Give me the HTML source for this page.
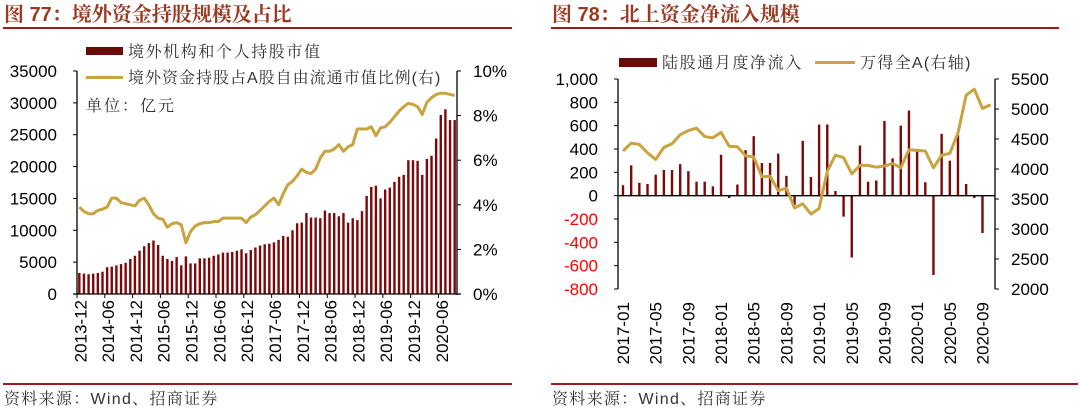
<!DOCTYPE html>
<html><head><meta charset="utf-8">
<style>
body{margin:0;background:#fff;}
svg{display:block;font-family:"Liberation Sans","Noto Sans CJK SC",sans-serif;}
.cj{font-family:"Liberation Sans","Noto Serif CJK SC",serif;}
</style></head>
<body>
<svg id="s" width="1080" height="410" xmlns="http://www.w3.org/2000/svg">
<g>
<text x="4" y="21" font-size="20" font-weight="bold" fill="#9b3a22" class="cj">图 77：境外资金持股规模及占比</text>
<rect x="3" y="27" width="509" height="2" fill="#9b1c1c"/>
</g>
<g>
<text x="552" y="21" font-size="20" font-weight="bold" fill="#9b3a22" class="cj">图 78：北上资金净流入规模</text>
<rect x="551" y="27" width="508" height="2" fill="#9b1c1c"/>
</g>
<g>
<rect x="86" y="47" width="37" height="8" fill="#6b0a0a"/>
<text x="128" y="57" font-size="16" letter-spacing="1.6" fill="#333" class="cj">境外机构和个人持股市值</text>
<rect x="86" y="76" width="37" height="3" fill="#c9a33f"/>
<text x="128" y="83" font-size="16" letter-spacing="1" fill="#333" class="cj">境外资金持股占A股自由流通市值比例(右)</text>
<text x="86" y="111" font-size="16" letter-spacing="2" fill="#333" class="cj">单位：亿元</text>
</g>
<g>
<rect x="619" y="58" width="38" height="9" fill="#6b0a0a"/>
<text x="662" y="68" font-size="16" letter-spacing="1.6" fill="#333" class="cj">陆股通月度净流入</text>
<rect x="815" y="61" width="40" height="3" fill="#c9a33f"/>
<text x="860" y="68" font-size="16" letter-spacing="1.3" fill="#333" class="cj">万得全A(右轴)</text>
</g>
<rect x="3" y="383" width="509" height="2" fill="#9b1c1c"/>
<text x="4" y="404" font-size="16" letter-spacing="1.3" fill="#333" class="cj">资料来源：Wind、招商证券</text>
<rect x="551" y="383" width="527" height="2" fill="#9b1c1c"/>
<text x="552" y="404" font-size="16" letter-spacing="1.3" fill="#333" class="cj">资料来源：Wind、招商证券</text>
<g id="L"></g><g id="R"></g>
</svg>
<script>
const leftBars=[3300,3200,3100,3200,3300,3500,4200,4300,4500,4700,4900,5500,6000,6800,7500,8000,8400,7700,6000,5500,5200,5800,4500,5900,4800,4800,5600,5600,5700,6000,6200,6500,6500,6600,6800,7000,6400,6900,7300,7600,7800,7900,8100,8500,9100,9000,10000,11100,11200,12700,12000,12000,11900,13100,12700,12700,12200,12700,11200,11900,11600,13000,15400,16800,17000,15000,16400,16700,17600,18400,18700,21000,21000,20900,18700,21200,21700,24400,28100,29000,27300,27300];
const leftRatio=[3.9,3.7,3.6,3.6,3.75,3.8,3.9,4.3,4.3,4.1,4.05,4.0,3.95,4.2,4.3,4.0,3.6,3.4,3.35,3.0,3.15,3.2,3.1,2.3,2.8,3.05,3.15,3.2,3.2,3.25,3.25,3.4,3.4,3.4,3.4,3.4,3.2,3.45,3.55,3.75,3.95,4.15,4.3,4.0,4.5,4.9,5.05,5.3,5.6,5.45,5.4,5.6,6.1,6.4,6.4,6.5,6.7,6.4,6.6,6.7,7.4,7.4,7.4,7.5,7.1,7.45,7.5,7.7,7.95,8.2,8.4,8.55,8.5,8.4,8.05,8.6,8.8,8.95,9.0,9.0,8.95,8.9];
const leftXLabels=["2013-12","2014-06","2014-12","2015-06","2015-12","2016-06","2016-12","2017-06","2017-12","2018-06","2018-12","2019-06","2019-12","2020-06"];
const leftYTicks=[0,5000,10000,15000,20000,25000,30000,35000];
const leftY2Ticks=[0,2,4,6,8,10];
const rightBars=[90,260,110,100,180,220,220,270,210,120,120,80,350,-20,95,390,510,280,280,360,170,-80,470,160,610,610,40,-180,-530,430,120,130,640,320,600,730,380,115,-680,530,300,520,100,-20,-320];
const rightIndex=[4300,4430,4410,4270,4160,4360,4420,4570,4640,4680,4540,4520,4610,4380,4370,4220,4200,3870,3880,3640,3680,3350,3420,3250,3340,3960,4230,4190,3920,4060,4060,4030,4050,4090,4020,4320,4310,4300,4020,4230,4260,4600,5230,5330,5010,5070];
const rightXLabels=["2017-01","2017-05","2017-09","2018-01","2018-05","2018-09","2019-01","2019-05","2019-09","2020-01","2020-05","2020-09"];
const rightYTicks=[-800,-600,-400,-200,0,200,400,600,800,1000];
const rightY2Ticks=[2000,2500,3000,3500,4000,4500,5000,5500];

const NS="http://www.w3.org/2000/svg";
function mk(p,t,a,txt){const e=document.createElementNS(NS,t);for(const k in a)e.setAttribute(k,a[k]);if(txt!==undefined)e.textContent=txt;p.appendChild(e);return e;}
// LEFT
const L=document.getElementById('L');
const lx0=77,lx1=457,ly0=294,ly1=71,lstep=(lx1-lx0)/82;
const lxc=i=>lx0+(i+0.5)*lstep;
const ly=v=>ly0-(v/35000)*(ly0-ly1);
const ly2=v=>ly0-(v/10)*(ly0-ly1);
leftBars.forEach((v,i)=>{const r=mk(L,'rect',{x:lxc(i)-1.2,y:ly(v),width:2.4,height:ly0-ly(v),fill:'#7a0a0a'});

});
let pl=mk(L,'polyline',{points:leftRatio.map((v,i)=>lxc(i)+','+ly2(v)).join(' '),fill:'none',stroke:'#c9a33f','stroke-width':3,'stroke-linejoin':'round'});


mk(L,'line',{x1:lx0,y1:ly1,x2:lx0,y2:ly0+1,stroke:'#000','stroke-width':1.3});
mk(L,'line',{x1:lx1,y1:ly1,x2:lx1,y2:ly0+1,stroke:'#000','stroke-width':1.3});
mk(L,'line',{x1:lx0-4,y1:ly0,x2:lx1+4,y2:ly0,stroke:'#000','stroke-width':1.3});
leftYTicks.forEach(v=>{mk(L,'line',{x1:lx0-4,y1:ly(v),x2:lx0,y2:ly(v),stroke:'#000'});
const t=mk(L,'text',{x:57,y:ly(v)+6,'font-size':17,'text-anchor':'end',fill:'#000'},String(v));

});
leftY2Ticks.forEach(v=>{mk(L,'line',{x1:lx1,y1:ly2(v),x2:lx1+4,y2:ly2(v),stroke:'#000'});
const t=mk(L,'text',{x:473,y:ly2(v)+6,'font-size':17,fill:'#000'},v+'%');

});
leftXLabels.forEach((s,k)=>{const x=lx0+k*6*lstep;mk(L,'line',{x1:x,y1:ly0,x2:x,y2:ly0+4,stroke:'#000'});
const cx=lxc(k*6)+1;
const t=mk(L,'text',{x:0,y:0,'font-size':17,'text-anchor':'end',fill:'#000',transform:`translate(${cx+6},300) rotate(-90)`},s);

});
// RIGHT
const R=document.getElementById('R');
const rx0=618,rx1=995,ry0=289,ry1=79,rstep=8.17;
const rxc=i=>623+i*rstep;
const ry=v=>ry0-((v+800)/1800)*(ry0-ry1);
const ry2=v=>ry0-((v-2000)/3500)*(ry0-ry1);
rightBars.forEach((v,i)=>{const y=Math.min(ry(v),ry(0));const r=mk(R,'rect',{x:rxc(i)-1.2,y:y,width:2.4,height:Math.abs(ry(v)-ry(0)),fill:'#7a0a0a'});

});
mk(R,'line',{x1:rx0,y1:ry(0),x2:rx1,y2:ry(0),stroke:'#000','stroke-width':1.3});
let pr=mk(R,'polyline',{points:rightIndex.map((v,i)=>rxc(i)+','+ry2(v)).join(' '),fill:'none',stroke:'#c9a33f','stroke-width':3,'stroke-linejoin':'round'});


mk(R,'line',{x1:rx0,y1:ry1,x2:rx0,y2:ry0,stroke:'#000','stroke-width':1.3});
mk(R,'line',{x1:rx1,y1:ry1,x2:rx1,y2:ry0,stroke:'#000','stroke-width':1.3});
rightYTicks.forEach(v=>{mk(R,'line',{x1:rx0-4,y1:ry(v),x2:rx0,y2:ry(v),stroke:'#000'});
const t=mk(R,'text',{x:598,y:ry(v)+6,'font-size':17,'text-anchor':'end',fill:v<0?'#ff0000':'#000'},v>=1000?'1,000':String(v));

});
rightY2Ticks.forEach(v=>{mk(R,'line',{x1:rx1,y1:ry2(v),x2:rx1+4,y2:ry2(v),stroke:'#000'});
const t=mk(R,'text',{x:1011,y:ry2(v)+6,'font-size':17,fill:'#000'},String(v));

});
rightXLabels.forEach((s,k)=>{const cx=rxc(k*4);
const t=mk(R,'text',{x:0,y:0,'font-size':17,'text-anchor':'end',fill:'#000',transform:`translate(${cx+6},302) rotate(-90)`},s);

});
</script>
</body></html>
